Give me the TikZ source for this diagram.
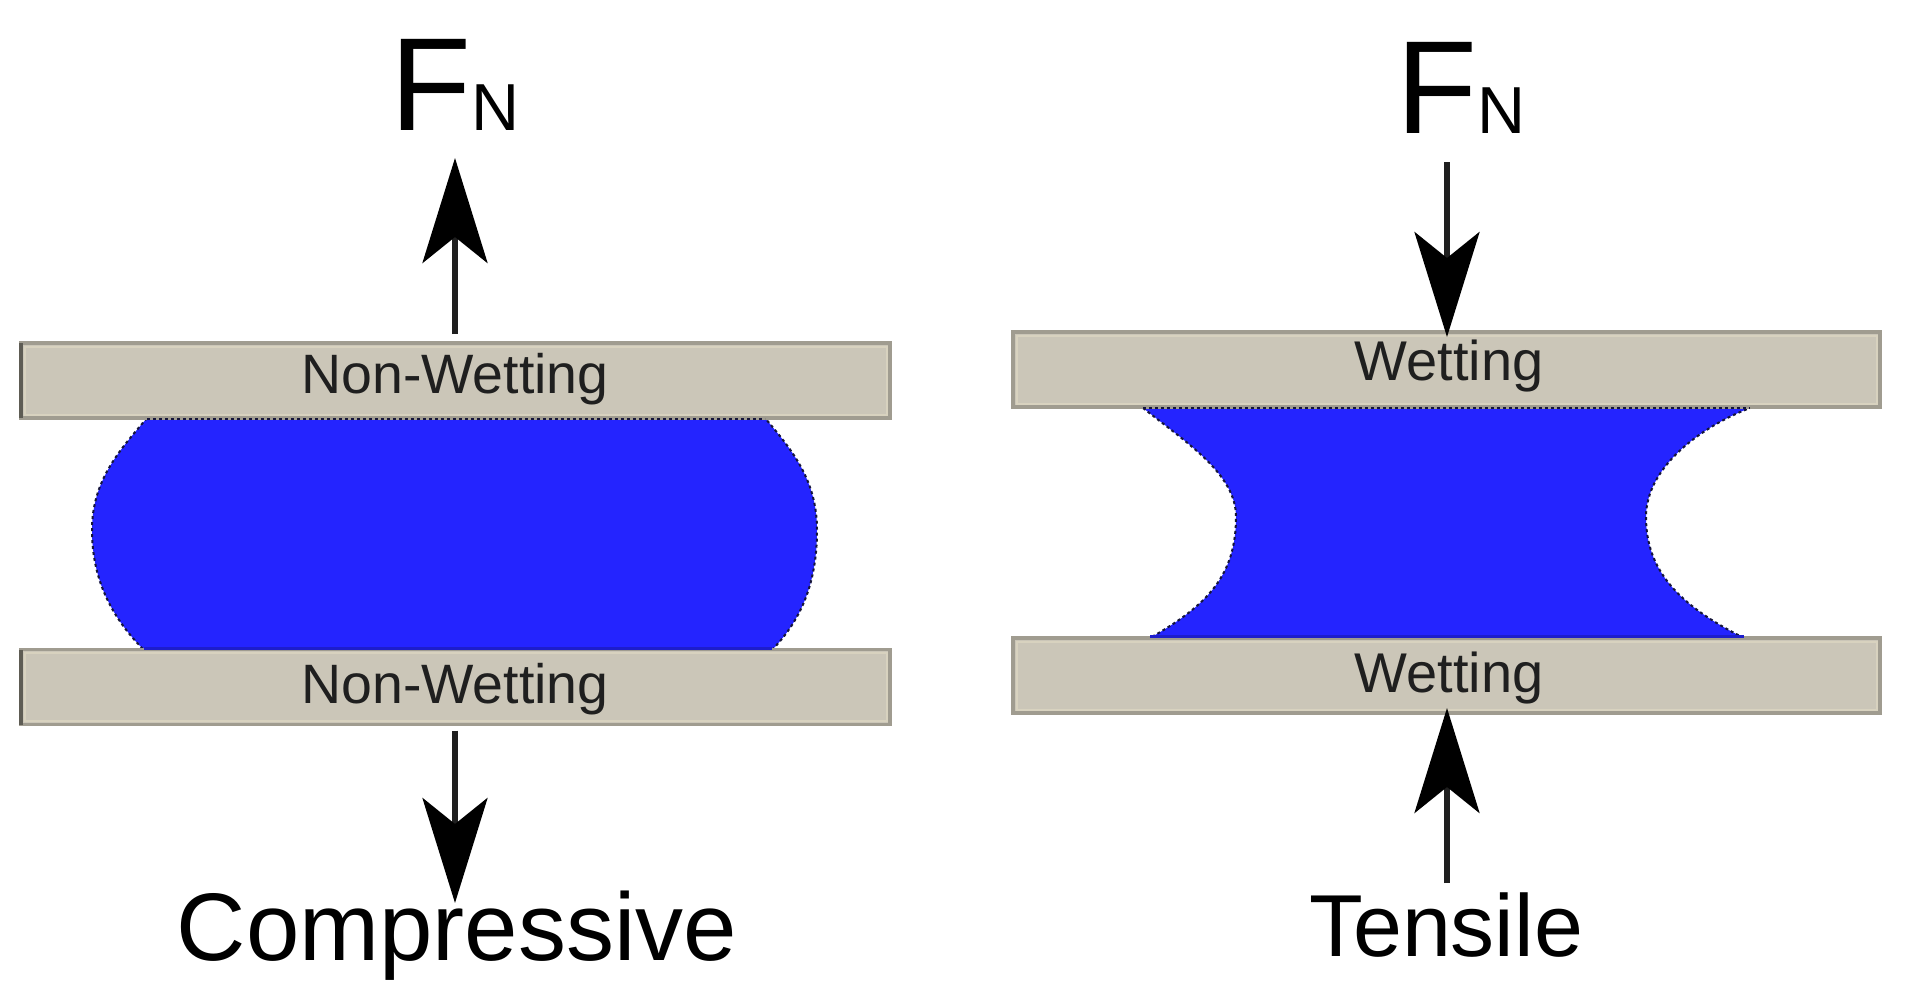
\documentclass[tikz,border=0pt]{standalone}
\usepackage{fontspec}
\setmainfont{Liberation Sans}
\usetikzlibrary{arrows.meta}
\definecolor{plateFill}{HTML}{CBC6B8}
\definecolor{plateEdge}{HTML}{A09C90}
\definecolor{plateHi}{HTML}{D8D2BF}
\definecolor{plateDark}{HTML}{5E5C54}
\definecolor{liquid}{HTML}{2424FF}
\definecolor{liquidEdge}{HTML}{15153A}
\newcommand{\fsz}[1]{\fontsize{#1pt}{#1pt}\selectfont}
\tikzset{
  plate/.style={rectangle,minimum width=#1,minimum height=75pt,inner sep=0pt,outer sep=0pt,
    fill=plateFill,draw=plateEdge,line width=3.5pt},
  platehi/.style={draw=plateHi,line width=2pt},
  platetext/.style={anchor=base,inner sep=0pt,text=black!88,font=\fsz{#1}},
  bigtext/.style={anchor=base,inner sep=0pt,text=black,font=\fsz{#1}},
  force/.style={draw=black!88,line width=5.5pt,
    -{Stealth[length=105pt,width=65pt,inset=26pt,fill=black,color=black]}},
  water/.style={fill=liquid,draw=none},
  waterline/.style={draw=liquidEdge,line width=2pt,dash pattern=on 3pt off 3pt},
}
\begin{document}
\begin{tikzpicture}[x=1pt,y=-1pt]
\useasboundingbox (0,0) rectangle (1915,997);
\fill[white] (0,0) rectangle (1915,997);

% liquid bridges
\fill[water] (147,418) .. controls (120,450) and (92,480) .. (92,530)
  .. controls (92,580) and (112,618) .. (144,650) -- (772,650)
  .. controls (803,618) and (817,580) .. (817,530)
  .. controls (817,480) and (792,450) .. (765,418) -- cycle;
\draw[waterline] (147,418) .. controls (120,450) and (92,480) .. (92,530)
  .. controls (92,580) and (112,618) .. (144,650);
\draw[waterline] (772,650) .. controls (803,618) and (817,580) .. (817,530)
  .. controls (817,480) and (792,450) .. (765,418);

\fill[water] (1143,408) .. controls (1190,445) and (1236,475) .. (1236,517)
  .. controls (1236,575) and (1208,605) .. (1150,638) -- (1744,638)
  .. controls (1678,605) and (1646,570) .. (1646,517)
  .. controls (1646,465) and (1705,425) .. (1750,408) -- cycle;
\draw[waterline] (1143,408) .. controls (1190,445) and (1236,475) .. (1236,517)
  .. controls (1236,575) and (1208,605) .. (1150,638);
\draw[waterline] (1744,638) .. controls (1678,605) and (1646,570) .. (1646,517)
  .. controls (1646,465) and (1705,425) .. (1750,408);

% plates
\node[plate=869pt] (lt) at (455.5,380.5) {};
\node[plate=869pt] (lb) at (455.5,687) {};
\node[plate=867pt] (rt) at (1446.5,369.5) {};
\node[plate=867pt] (rb) at (1446.5,675.5) {};
\foreach \p in {lt,lb,rt,rb}
  \draw[platehi] ([xshift=3.5pt,yshift=-3.5pt]\p.north west) rectangle ([xshift=-3.5pt,yshift=3.5pt]\p.south east);
\foreach \p in {lt,lb}
  \draw[plateDark,line width=4pt] (\p.south west) -- (\p.north west);
% liquid edges along the plates
\draw[waterline] (147,418.5) -- (765,418.5);
\draw[waterline] (1143,407.5) -- (1750,407.5);
\fill[liquid!80!black] (144,647) rectangle (772,650);
\fill[liquid!80!black] (1150,635) rectangle (1744,638);

% plate labels
\node[platetext=55.5] (ltt) at (455,393) {Non-Wetting};
\node[platetext=55.5] (lbt) at (455,703) {Non-Wetting};
\node[platetext=56] (rtt) at (1449,380) {Wetting};
\node[platetext=56] (rbt) at (1449,692) {Wetting};

% big labels
\node[anchor=base west,inner sep=0pt,font=\fsz{132.5}] (lf) at (390,130) {F{\fsz{66.5}N}};
\node[anchor=base west,inner sep=0pt,font=\fsz{132.5}] (rf) at (1396,133) {F{\fsz{66.5}N}};
\node[bigtext=96] (comp) at (457,960) {Compressive};
\node[bigtext=88] (tens) at (1446,956) {Tensile};

% force arrows
\coordinate (lta) at (455,158);
\coordinate (lba) at (455,903);
\coordinate (rts) at (1447,162);
\coordinate (rbs) at (1447,883);
\draw[force,shorten <=9pt] (lt.north -| lta) -- (lta);
\draw[force,shorten <=6pt] (lb.south -| lba) -- (lba);
\draw[force] (rts) -- ([yshift=-5pt]rt.north -| rts);
\draw[force] (rbs) -- ([yshift=5pt]rb.south -| rbs);
\end{tikzpicture}
\end{document}
